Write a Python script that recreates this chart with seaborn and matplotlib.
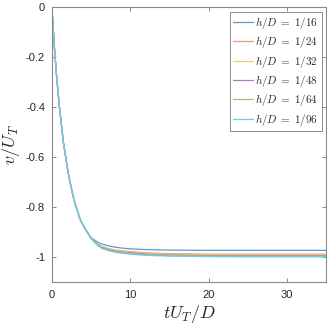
import numpy as np
import pandas as pd
import matplotlib
matplotlib.use("Agg")
import matplotlib.pyplot as plt
from matplotlib.lines import Line2D
import seaborn as sns

sns.set_style("white")
plt.rcParams["font.family"] = ["Liberation Sans", "DejaVu Sans"]
plt.rcParams["mathtext.fontset"] = "cm"
plt.rcParams["axes.unicode_minus"] = False

# time samples
t = [0, 0.1, 0.2, 0.35, 0.6, 0.95, 1.2, 1.45, 1.75, 2.0, 2.3, 2.8, 3.2, 3.6,
     4.2, 4.6, 5.0, 5.7, 6.4, 7.2, 8, 9, 10, 12, 15, 20, 25, 30, 35]

# shared transient part (up to t ~ 5)
start = [0, -0.06, -0.11, -0.18, -0.28, -0.40, -0.47, -0.54, -0.60, -0.65,
         -0.70, -0.77, -0.81, -0.85, -0.885, -0.905]

v_16 = start + [-0.922, -0.938, -0.948, -0.955, -0.960, -0.964, -0.967,
                -0.970, -0.972, -0.973, -0.973, -0.973, -0.973]
v_24 = start + [-0.924, -0.945, -0.958, -0.966, -0.971, -0.975, -0.978,
                -0.983, -0.986, -0.988, -0.988, -0.988, -0.988]
v_32 = start + [-0.925, -0.946, -0.960, -0.968, -0.973, -0.978, -0.981,
                -0.986, -0.989, -0.991, -0.992, -0.992, -0.992]
v_48 = start + [-0.925, -0.947, -0.962, -0.970, -0.976, -0.980, -0.983,
                -0.988, -0.992, -0.994, -0.995, -0.995, -0.995]
v_64 = start + [-0.926, -0.948, -0.964, -0.972, -0.978, -0.982, -0.986,
                -0.990, -0.994, -0.996, -0.997, -0.997, -0.997]
v_96 = start + [-0.926, -0.950, -0.966, -0.974, -0.980, -0.985, -0.988,
                -0.993, -0.996, -0.998, -0.999, -0.999, -0.999]

labels = [r"$h/D\;=\;1/16$", r"$h/D\;=\;1/24$", r"$h/D\;=\;1/32$",
          r"$h/D\;=\;1/48$", r"$h/D\;=\;1/64$", r"$h/D\;=\;1/96$"]
series = [v_16, v_24, v_32, v_48, v_64, v_96]

# MATLAB default line colours, as they look on the thin anti-aliased lines
colors = ["#5B9BD0", "#EE9A78", "#F4CC6A", "#B07ABB", "#9CC76E", "#6CCBF0"]

df = pd.concat(
    [pd.DataFrame({"t": t, "v": s, "case": lab}) for s, lab in zip(series, labels)],
    ignore_index=True,
)

fig = plt.figure(figsize=(3.27, 3.25), dpi=100)
ax = fig.add_axes([0.159, 0.132, 0.838, 0.846])

sns.lineplot(data=df, x="t", y="v", hue="case", palette=colors,
             linewidth=0.9, ax=ax, sort=False, estimator=None, legend=False)

ax.set_xlim(0, 35)
ax.set_ylim(-1.1, 0)
ax.set_xticks([0, 10, 20, 30])
ax.set_yticks([0, -0.2, -0.4, -0.6, -0.8, -1])
ax.set_yticklabels(["0", "-0.2", "-0.4", "-0.6", "-0.8", "-1"])
ax.tick_params(direction="in", length=3, width=0.6, colors="#777777",
               labelcolor="#262626", labelsize=8, top=True, right=True,
               bottom=True, left=True)
ax.tick_params(axis="x", pad=6)
ax.tick_params(axis="y", pad=5)
for sp in ax.spines.values():
    sp.set_color("#888888")
    sp.set_linewidth(0.8)
    sp.set_visible(True)

ax.set_xlabel("$tU_T/D$", fontsize=13, labelpad=2)
ax.set_ylabel("$v/U_T$", fontsize=13, labelpad=3)

handles = [Line2D([], [], color=c, linewidth=0.9) for c in colors]
leg = ax.legend(handles, labels, loc="upper right", fontsize=8, frameon=True,
                fancybox=False, borderaxespad=0.4, handlelength=1.8,
                handletextpad=0.2, labelspacing=0.3, borderpad=0.3)
leg.get_frame().set_edgecolor("#555555")
leg.get_frame().set_linewidth(0.6)

fig.savefig("out.png", dpi=100)
